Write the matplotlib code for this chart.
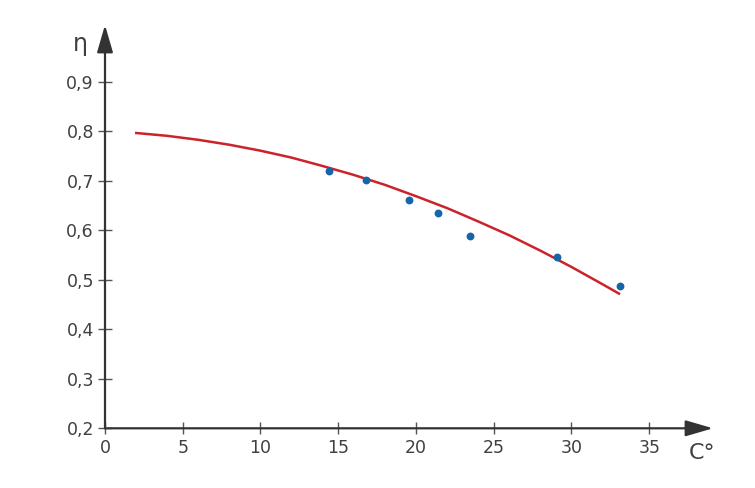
import numpy as np
import matplotlib
matplotlib.use('Agg')
from matplotlib import pyplot as plt

# Measured points (temperature, efficiency)
temp_pts = [14.4, 16.8, 19.55, 21.4, 23.45, 29.05, 33.1]
eta_pts = [0.720, 0.701, 0.662, 0.635, 0.588, 0.546, 0.488]

# Trend curve
curve_x = [1.93, 4, 6, 8, 10, 12, 14, 16, 18, 20, 22, 24, 26, 28, 30, 32, 33.12]
curve_y = [0.797, 0.791, 0.783, 0.773, 0.761, 0.747, 0.730, 0.712, 0.692, 0.669,
           0.645, 0.618, 0.590, 0.559, 0.526, 0.491, 0.471]

x_ticks = [0, 5, 10, 15, 20, 25, 30, 35]
y_ticks = [0.2, 0.3, 0.4, 0.5, 0.6, 0.7, 0.8, 0.9]

axis_color = '#333333'
text_color = '#404040'

fig = plt.figure(figsize=(7.55, 4.88), dpi=100)
ax = fig.add_axes([105 / 755, 59.7 / 488, 608 / 755, 403.3 / 488])
ax.set_xlim(0, 39.1)
ax.set_ylim(0.2, 1.015)

for s in ax.spines.values():
    s.set_visible(False)

# Axis lines with arrow heads
arrow = dict(arrowstyle='-|>,head_length=1.2,head_width=0.35', lw=1.6,
             color=axis_color, shrinkA=0, shrinkB=0, mutation_scale=14)
ax.annotate('', xy=(1, 0), xytext=(0, 0), xycoords='axes fraction',
            textcoords='axes fraction', arrowprops=arrow, annotation_clip=False)
ax.annotate('', xy=(0, 1), xytext=(0, 0), xycoords='axes fraction',
            textcoords='axes fraction', arrowprops=arrow, annotation_clip=False)

# Curve and points
ax.plot(curve_x, curve_y, color='#cc2229', lw=1.8, solid_capstyle='butt',
        solid_joinstyle='round', zorder=2)
ax.scatter(temp_pts, eta_pts, s=32, color='#1565a8', zorder=3, linewidths=0)

ax.set_xticks(x_ticks)
ax.set_xticklabels([str(v) for v in x_ticks])
ax.set_yticks(y_ticks)
ax.set_yticklabels([('%.1f' % v).replace('.', ',') for v in y_ticks])

ax.tick_params(axis='x', direction='inout', length=9, width=1, color='#555555',
               labelsize=12.5, labelcolor=text_color, pad=3)
ax.tick_params(axis='y', direction='inout', length=10, width=1, color='#555555',
               labelsize=12.5, labelcolor=text_color, pad=3)

# Axis names
fig.text(80 / 755, 1 - 44 / 488, 'η', fontsize=17, color=text_color,
         ha='center', va='center')
fig.text(702 / 755, 1 - 453 / 488, 'C°', fontsize=16, color=text_color,
         ha='center', va='center')

fig.savefig('out.png', dpi=100)
